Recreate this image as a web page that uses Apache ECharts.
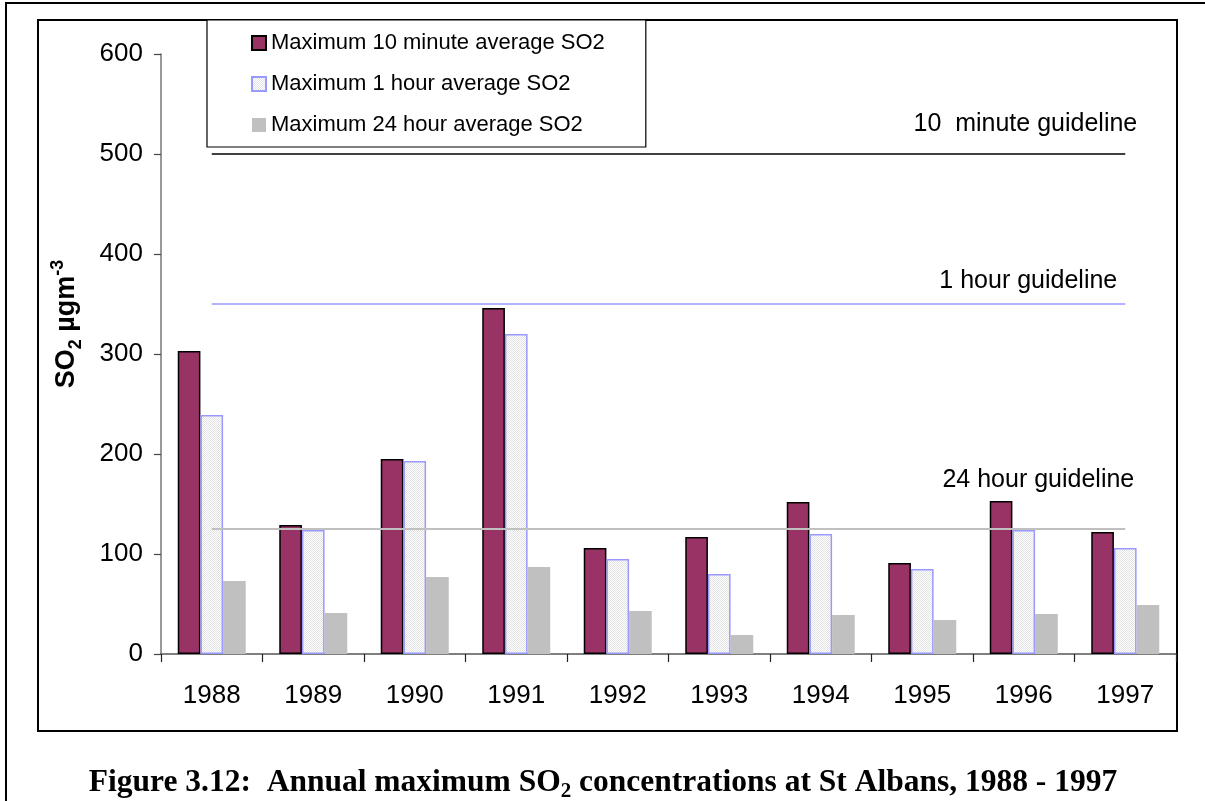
<!DOCTYPE html>
<html><head><meta charset="utf-8">
<script src="https://cdn.jsdelivr.net/npm/echarts@6/dist/echarts.min.js"></script>
<style>html,body{margin:0;padding:0;background:#fff}#c{width:1205px;height:801px}</style>
</head><body><div id="c"></div>
<script>
const years = ['1988','1989','1990','1991','1992','1993','1994','1995','1996','1997'];
const max10min = [303,129,195,346,106,117,152,91,153,122];
const max1h = [239,124,193,320,95,80,120,85,124,106];
const max24h = [73,41,77,87,43,19,39,34,40,49];
const seriesNames = ['Maximum 10 minute average SO2','Maximum 1 hour average SO2','Maximum 24 hour average SO2'];
const guidelineValues = [500,350,125];
const guidelineLabels = ['10  minute guideline','1 hour guideline','24 hour guideline'];
const yMin = 0, yMax = 600, yStep = 100;

const FONT = '"Liberation Sans", Arial, sans-serif';
const SERIF = '"Liberation Serif", "Times New Roman", serif';
const guideStyles = [
  {color:'#000000', width:1.6},
  {color:'#9999ff', width:1.5},
  {color:'#c0c0c0', width:2}
];
const guideLabelOffsets = [[12,-30],[-8,-23],[9,-49]];

// stipple pattern for the 1 hour bars
const pc = document.createElement('canvas'); pc.width = 2; pc.height = 2;
const g = pc.getContext('2d');
g.fillStyle = '#ffffff'; g.fillRect(0,0,2,2);
g.fillStyle = '#e2e2e2'; g.fillRect(0,0,1,1); g.fillRect(1,1,1,1);

const chart = echarts.init(document.getElementById('c'), null, {renderer:'canvas'});

const markLineData = guidelineValues.map((v,i)=>[
  {coord:[years[0], v], lineStyle:{color:guideStyles[i].color, width:guideStyles[i].width, type:'solid'}},
  {coord:[years[years.length-1], v]}
]);

const option = {
  animation:false,
  backgroundColor:'#ffffff',
  grid:{left:161, top:54, width:1015, height:600, outerBoundsMode:'none'},
  legend:{
    data:seriesNames,
    orient:'vertical', left:207, top:20,
    padding:[12,41,11,44],
    itemGap:19, itemWidth:14, itemHeight:14, icon:'rect',
    backgroundColor:'#ffffff', borderColor:'#000', borderWidth:1.2, borderRadius:0,
    textStyle:{fontFamily:FONT, fontSize:22, color:'#000', lineHeight:22},
    selectedMode:false
  },
  xAxis:{
    type:'category', data:years,
    axisLine:{show:true, lineStyle:{color:'#555', width:1.5}},
    axisTick:{show:true, alignWithLabel:false, length:8, lineStyle:{color:'#222', width:1.2}},
    axisLabel:{fontFamily:FONT, fontSize:26, color:'#000', margin:29},
    splitLine:{show:false}
  },
  yAxis:{
    type:'value', min:yMin, max:yMax, interval:yStep,
    axisLine:{show:true, lineStyle:{color:'#777', width:1.5}},
    axisTick:{show:true, length:7, lineStyle:{color:'#444', width:1.2}},
    axisLabel:{fontFamily:FONT, fontSize:26, color:'#000', margin:18},
    splitLine:{show:false}
  },
  series:[
    {name:seriesNames[0], type:'bar', data:max10min, barGap:'0%', barCategoryGap:'33%',
     itemStyle:{color:'#993366', borderColor:'#000', borderWidth:1.5}},
    {name:seriesNames[1], type:'bar', data:max1h, barGap:'0%', barCategoryGap:'33%',
     itemStyle:{color:{image:pc, repeat:'repeat'}, borderColor:'#9999ff', borderWidth:1.5},
     markLine:{silent:true, symbol:['none','none'], label:{show:false}, data:markLineData, z:5}},
    {name:seriesNames[2], type:'bar', data:max24h, barGap:'0%', barCategoryGap:'33%',
     itemStyle:{color:'#c0c0c0', borderWidth:0}}
  ]
};
chart.setOption(option);

const graphics = [
  {type:'rect', shape:{x:6,y:3,width:1300,height:900}, style:{fill:null, stroke:'#000', lineWidth:2}, silent:true, z:-10},
  {type:'rect', shape:{x:38,y:20,width:1139,height:711}, style:{fill:null, stroke:'#000', lineWidth:2}, silent:true, z:-10},
  {type:'text', x:67, y:324, rotation:Math.PI/2, silent:true,
   style:{text:'{a|SO}{s|2}{a| µgm}{p|-3}', align:'center', verticalAlign:'middle',
     rich:{
       a:{fontFamily:FONT, fontSize:27, fontWeight:'bold', fill:'#000', lineHeight:36},
       s:{fontFamily:FONT, fontSize:18, fontWeight:'bold', fill:'#000', lineHeight:18, verticalAlign:'bottom'},
       p:{fontFamily:FONT, fontSize:18, fontWeight:'bold', fill:'#000', lineHeight:18, verticalAlign:'top'}
     }}},
  {type:'text', x:603, y:783, silent:true,
   style:{text:'{t|Figure 3.12:  Annual maximum SO}{s|2}{t| concentrations at St Albans, 1988 - 1997}', align:'center', verticalAlign:'middle',
     rich:{
       t:{fontFamily:SERIF, fontSize:31.5, fontWeight:'bold', fill:'#000', lineHeight:38},
       s:{fontFamily:SERIF, fontSize:21, fontWeight:'bold', fill:'#000', lineHeight:21, verticalAlign:'bottom'}
     }}}
];
guidelineValues.forEach((v,i)=>{
  const p = chart.convertToPixel({gridIndex:0}, [years[years.length-1], v]);
  graphics.push({type:'text', x:p[0]+guideLabelOffsets[i][0], y:p[1]+guideLabelOffsets[i][1], silent:true,
    style:{text:guidelineLabels[i], align:'right', verticalAlign:'middle', fontFamily:FONT, fontSize:25, fill:'#000'}});
});
chart.setOption({graphic:graphics});
</script></body></html>
